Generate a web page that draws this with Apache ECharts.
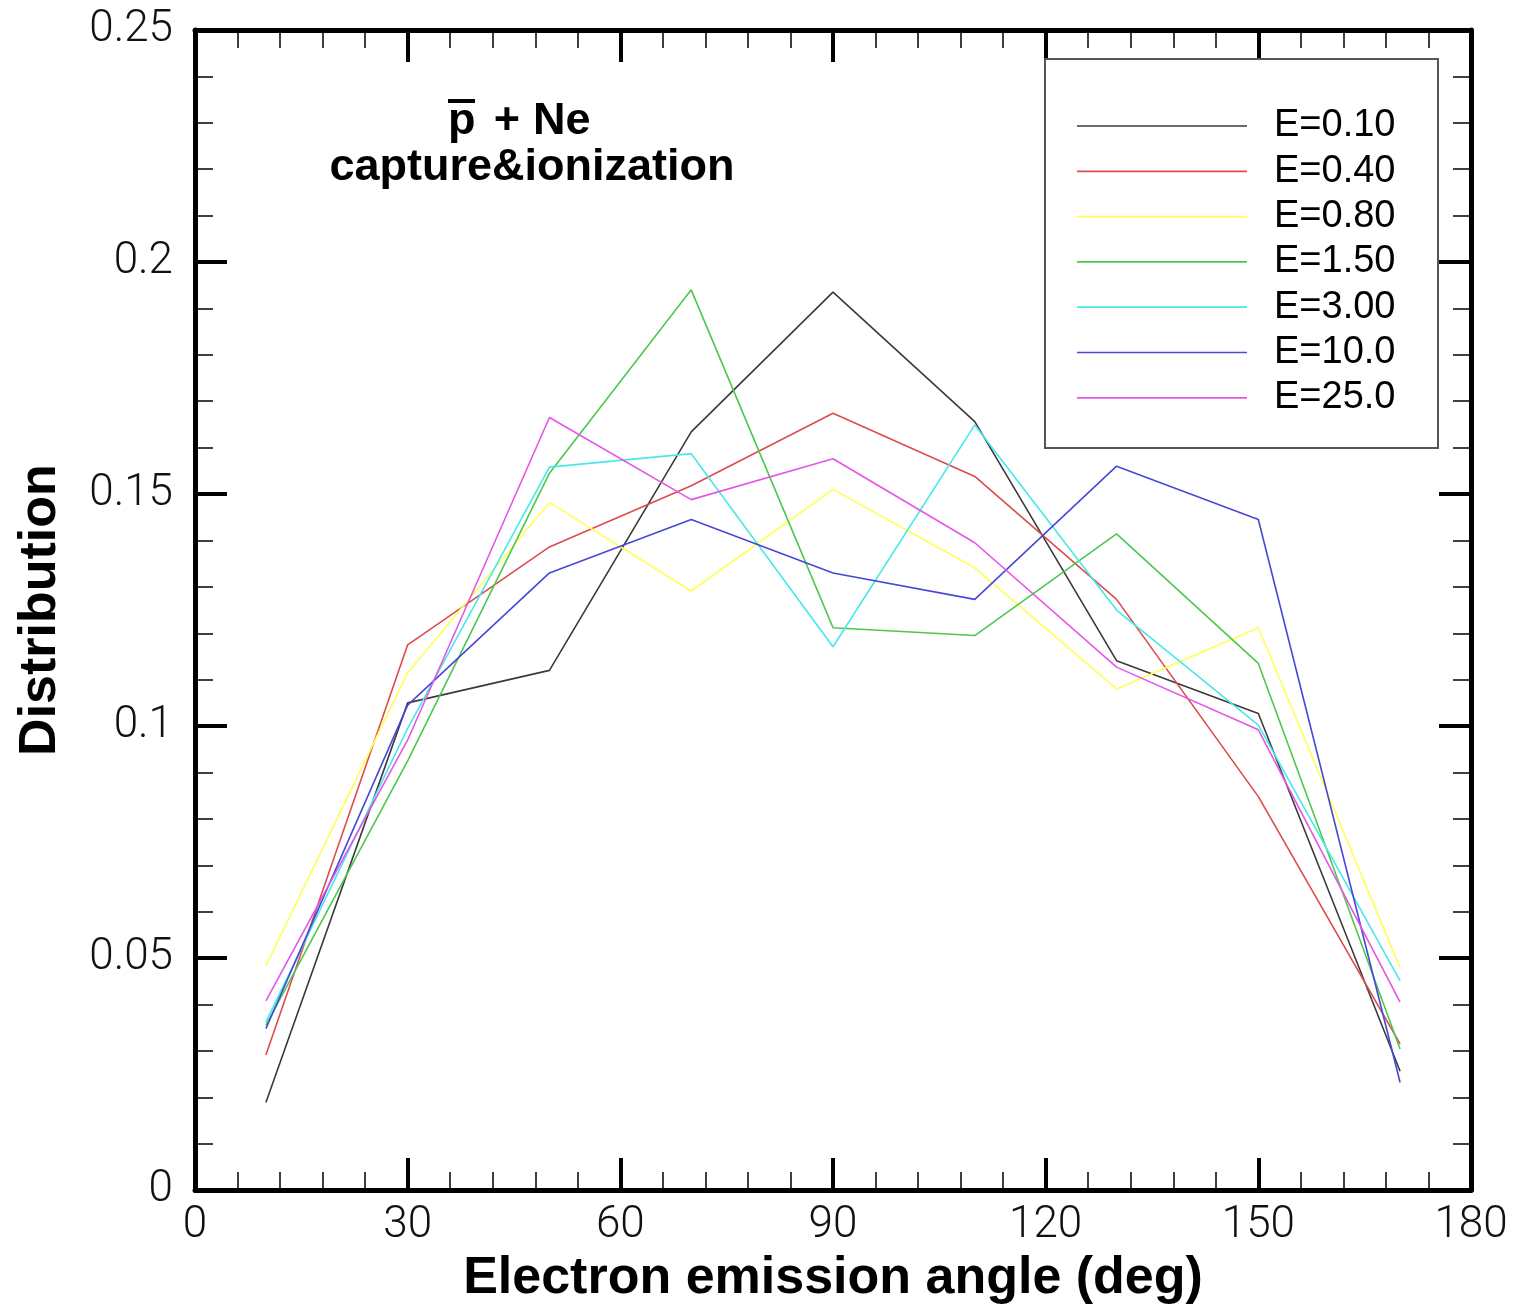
<!DOCTYPE html>
<html>
<head>
<meta charset="utf-8">
<script src="https://cdn.jsdelivr.net/npm/echarts@6/dist/echarts.min.js"></script>
<style>
  html, body { margin: 0; padding: 0; background: #ffffff; overflow: hidden; }
  #chart { width: 1514px; height: 1310px; }
</style>
</head>
<body>
<div id="chart"></div>
<script>
// ---- data ----
var angles = [10, 30, 50, 70, 90, 110, 130, 150, 170];
var seriesNames = ['E=0.10', 'E=0.40', 'E=0.80', 'E=1.50', 'E=3.00', 'E=10.0', 'E=25.0'];
var e010  = [0.0189, 0.1050, 0.1120, 0.1634, 0.1935, 0.1656, 0.1141, 0.1027, 0.0256];
var e040  = [0.0291, 0.1175, 0.1386, 0.1518, 0.1674, 0.1538, 0.1273, 0.0848, 0.0315];
var e080  = [0.0483, 0.1115, 0.1482, 0.1291, 0.1510, 0.1341, 0.1080, 0.1212, 0.0479];
var e150  = [0.0355, 0.0925, 0.1545, 0.1940, 0.1212, 0.1195, 0.1414, 0.1135, 0.0304];
var e300  = [0.0362, 0.0995, 0.1558, 0.1587, 0.1171, 0.1649, 0.1250, 0.1002, 0.0451];
var e1000 = [0.0348, 0.1045, 0.1330, 0.1445, 0.1330, 0.1273, 0.1560, 0.1445, 0.0232];
var e2500 = [0.0408, 0.0970, 0.1665, 0.1488, 0.1576, 0.1395, 0.1127, 0.0992, 0.0405];
var xTicks = [0, 30, 60, 90, 120, 150, 180];
var yTicks = [0, 0.05, 0.1, 0.15, 0.2, 0.25];
var lineColors = ['#3a3a3a', '#dd4c4c', '#ffff55', '#4cc84c', '#48e8e8', '#4848d8', '#e655e6'];

var allValues = [e010, e040, e080, e150, e300, e1000, e2500];

function pairs(vals) {
  return angles.map(function (a, i) { return [a, vals[i]]; });
}

var tickFont = { fontFamily: 'Roboto, "Liberation Sans", sans-serif', fontWeight: 300, fontSize: 44, color: '#111' };
var nameFont = { fontFamily: '"Liberation Sans", Arial, sans-serif', fontWeight: 'bold', fontSize: 52, color: '#000' };

function xAxisDef(pos, showLabel) {
  return {
    type: 'value', position: pos, min: xTicks[0], max: xTicks[xTicks.length - 1], interval: 30,
    axisLine: { show: true, onZero: false, lineStyle: { color: '#000', width: 5 } },
    axisTick: { show: true, inside: true, length: 32, lineStyle: { color: '#000', width: 4 } },
    minorTick: { show: true, splitNumber: 5, length: 18, lineStyle: { color: '#000', width: 1.5 } },
    splitLine: { show: false },
    axisLabel: Object.assign({ show: showLabel, margin: 14 }, tickFont),
    name: showLabel ? 'Electron emission angle (deg)' : '',
    nameLocation: 'middle', nameGap: 54,
    nameTextStyle: nameFont
  };
}
function yAxisDef(pos, showLabel) {
  return {
    type: 'value', position: pos, min: yTicks[0], max: yTicks[yTicks.length - 1], interval: 0.05,
    axisLine: { show: true, onZero: false, lineStyle: { color: '#000', width: 5 } },
    axisTick: { show: true, inside: true, length: 32, lineStyle: { color: '#000', width: 4 } },
    minorTick: { show: true, splitNumber: 5, length: 18, lineStyle: { color: '#000', width: 1.5 } },
    splitLine: { show: false },
    axisLabel: Object.assign({ show: showLabel, margin: 22 }, tickFont),
    name: showLabel ? 'Distribution' : '',
    nameLocation: 'middle', nameGap: 128, nameRotate: 90,
    nameTextStyle: nameFont
  };
}

var series = seriesNames.map(function (n, i) {
  return {
    name: n, type: 'line', xAxisIndex: 0, yAxisIndex: 0,
    data: pairs(allValues[i]), symbol: 'none', smooth: false,
    lineStyle: { color: lineColors[i], width: 1.6 },
    itemStyle: { color: lineColors[i] },
    z: 3 + i
  };
});

var chart = echarts.init(document.getElementById('chart'), null, { renderer: 'canvas' });
chart.setOption({
  backgroundColor: '#ffffff',
  animation: false,
  grid: { left: 195, top: 30, width: 1276, height: 1165, containLabel: false },
  xAxis: [xAxisDef('bottom', true), xAxisDef('top', false)],
  yAxis: [yAxisDef('left', true), yAxisDef('right', false)],
  legend: {
    data: seriesNames, orient: 'vertical', left: 1044, top: 58,
    padding: [48, 37, 29, 33],
    icon: 'path://M0,0L170,0L170,1.7L0,1.7Z',
    itemWidth: 170, itemHeight: 40, itemGap: 5.3,
    textStyle: { fontFamily: '"Liberation Sans", Arial, sans-serif', fontSize: 38, color: '#000', lineHeight: 40, padding: [0, 0, 0, 22] },
    z: 10
  },
  graphic: [
    { type: 'rect', left: 1044, top: 58, shape: { width: 393, height: 389 }, style: { fill: '#fff', stroke: '#555', lineWidth: 2 }, z: 5 },
    { type: 'text', x: 448, y: 122, style: { text: 'p', font: 'bold 45px "Liberation Sans", Arial, sans-serif', fill: '#000', textAlign: 'left', textVerticalAlign: 'middle' }, z: 20 },
    { type: 'rect', shape: { x: 448, y: 99, width: 27, height: 4 }, style: { fill: '#000' }, z: 20 },
    { type: 'text', x: 507, y: 122, style: { text: '+', font: 'bold 45px "Liberation Sans", Arial, sans-serif', fill: '#000', textAlign: 'center', textVerticalAlign: 'middle' }, z: 20 },
    { type: 'text', x: 533, y: 122, style: { text: 'Ne', font: 'bold 45px "Liberation Sans", Arial, sans-serif', fill: '#000', textAlign: 'left', textVerticalAlign: 'middle' }, z: 20 },
    { type: 'text', x: 532, y: 168, style: { text: 'capture&ionization', font: 'bold 45px "Liberation Sans", Arial, sans-serif', fill: '#000', textAlign: 'center', textVerticalAlign: 'middle' }, z: 20 }
  ],
  series: series
});
</script>
</body>
</html>
